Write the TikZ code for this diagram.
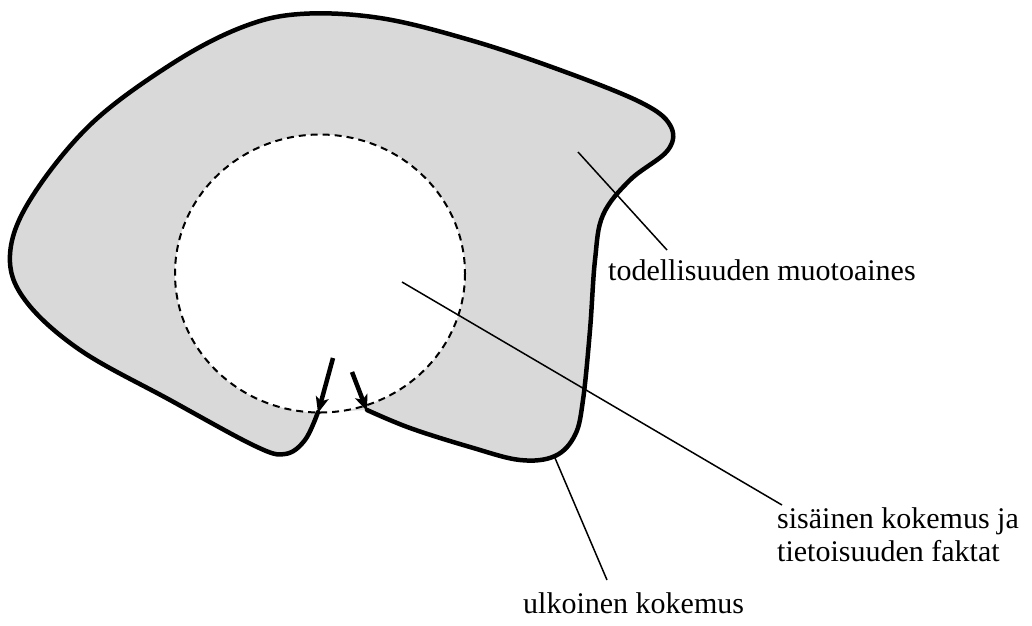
\documentclass[tikz,border=0pt]{standalone}
\usepackage{fontspec}
\setmainfont{Liberation Serif}
\usetikzlibrary{arrows.meta,shapes.geometric}
\definecolor{regiongray}{gray}{0.85}
\tikzset{
  outlinestroke/.style={line width=4.5pt, line join=round, line cap=round},
  innerline/.style={line width=2pt, dash pattern=on 7pt off 5pt},
  pointer/.style={line width=1.5pt},
  labeltext/.style={inner sep=0pt, font=\fontsize{30}{33}\selectfont},
  arrowstroke/.style={line width=4.5pt, -{Stealth[length=16pt,width=13pt,inset=4pt]}}
}
\begin{document}
\begin{tikzpicture}[x=1pt,y=-1pt]
\useasboundingbox (0,0) rectangle (1032,625);
% gray region
\fill[regiongray] plot[smooth,tension=0.6] coordinates {
 (318,412) (305,440) (285,454) (255,446) (170,400) (80,350) (25,300) (10,255)
 (30,200) (90,125) (170,65) (240,28) (300,14) (380,18) (470,40) (560,70)
 (640,102) (670,125) (668,150) (630,180) (603,215) (595,260) (590,330) (583,400)
 (575,435) (555,456) (520,460) (470,447) (410,428) (367,410)} -- cycle;
% inner circle
\node[draw=none, fill=white, ellipse, minimum width=290pt, minimum height=278pt, inner sep=0pt] (inner) at (320,273.5) {};
\draw[innerline] (inner.center) ellipse [x radius=145, y radius=139];
% outline
\draw[outlinestroke] plot[smooth,tension=0.6] coordinates {
 (318,412) (305,440) (285,454) (255,446) (170,400) (80,350) (25,300) (10,255)
 (30,200) (90,125) (170,65) (240,28) (300,14) (380,18) (470,40) (560,70)
 (640,102) (670,125) (668,150) (630,180) (603,215) (595,260) (590,330) (583,400)
 (575,435) (555,456) (520,460) (470,447) (410,428) (367,410)};
% arrows
\coordinate (la0) at (333,358);
\coordinate (la1) at (318,413);
\coordinate (ra0) at (352,372);
\coordinate (ra1) at (367,411);
\draw[arrowstroke] (la0) -- (la1);
\draw[arrowstroke] (ra0) -- (ra1);
% labels
\node[labeltext, anchor=base west] (muoto) at (608,280) {todellisuuden muotoaines};
\node[labeltext, anchor=north west, align=left] (sisa) at (777,507) {sisäinen kokemus ja\\tietoisuuden faktat};
\node[labeltext, anchor=base west] (ulko) at (523,613) {ulkoinen kokemus};
\coordinate (p1) at (578,152);
\coordinate (p1e) at (667,250);
\coordinate (p2) at (402,282);
\coordinate (p2e) at (782,505);
\coordinate (p3) at (555,458);
\coordinate (p3e) at (607,580);
\draw[pointer] (p1) -- (p1e);
\draw[pointer] (p2) -- (p2e);
\draw[pointer] (p3) -- (p3e);
\end{tikzpicture}
\end{document}
